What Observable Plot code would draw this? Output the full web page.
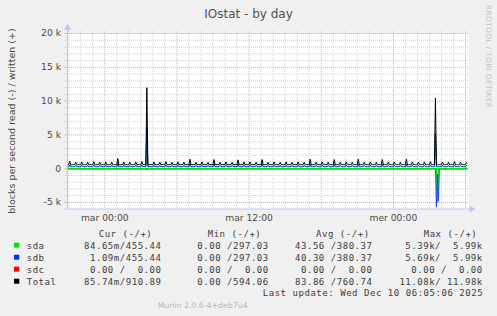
<!DOCTYPE html>
<html><head><meta charset="utf-8">
<script src="https://cdn.jsdelivr.net/npm/d3@7"></script>
<script src="https://cdn.jsdelivr.net/npm/@observablehq/plot@0.6"></script>
<style>
html,body{margin:0;padding:0;background:#f0f0f0;}
#chart{position:relative;width:497px;height:316px;overflow:hidden;}
svg text.pre{white-space:pre;}
</style></head><body><div id="chart"></div>
<script>
// ---------------- data ----------------
const title = "IOstat - by day";
const yLabel = "blocks per second read (-) / written (+)";
const watermark = "RRDTOOL / TOBI OETIKER";
const footer = "Munin 2.0.6-4+deb7u4";
const lastUpdate = "Last update: Wed Dec 10 06:05:06 2025";

const devices = ["sda", "sdb", "sdc", "Total"];
const deviceColors = ["#00e600", "#0033ff", "#ff0000", "#000000"];
const legendHeaders = ["Cur (-/+)", "Min (-/+)", "Avg (-/+)", "Max (-/+)"];
const curValues = ["84.65m/455.44", "1.09m/455.44", "0.00 /  0.00", "85.74m/910.89"];
const minValues = ["0.00 /297.03", "0.00 /297.03", "0.00 /  0.00", "0.00 /594.06"];
const avgValues = ["43.56 /380.37", "40.30 /380.37", "0.00 /  0.00", "83.86 /760.74"];
const maxValues = ["5.39k/  5.99k", "5.69k/  5.99k", "0.00 /  0.00", "11.08k/ 11.98k"];

const xTickTimes = ["2025-12-09T00:00:00Z", "2025-12-09T12:00:00Z", "2025-12-10T00:00:00Z"];
const xTickLabels = ["mar 00:00", "mar 12:00", "mer 00:00"];
const yTickValues = [-5000, 0, 5000, 10000, 15000, 20000];
const yTickLabels = ["-5 k", "0", "5 k", "10 k", "15 k", "20 k"];

// 5-minute samples
const seriesStart = "2025-12-08T20:55:00Z";
const seriesEnd = "2025-12-10T06:05:00Z";
// half-hourly write bumps, first one at 21:05
const firstBump = "2025-12-08T21:05:00Z";
const totalWriteBase = 600;
const sdbWriteBase = 300;
const totalWriteBumps = [
  1100,950,1000,950,1050,950,1000,950,1500,1000,
  950,1000,1050,600,1000,950,1050,950,1000,950,
  1400,950,1000,950,1350,950,1000,950,1300,1000,
  1000,950,1350,950,1000,950,1000,950,1000,950,
  1400,950,1000,950,1350,950,1000,950,1400,950,
  1000,950,1350,950,1000,950,1400,1000,950,1000,
  1050,600,1000,950,1050,950,911];
const sdbWriteBumps = [
  560,480,520,480,540,480,520,480,760,520,
  480,520,540,300,520,480,540,480,520,480,
  700,480,520,480,680,480,520,480,650,520,
  520,480,680,480,520,480,520,480,520,480,
  700,480,520,480,680,480,520,480,700,480,
  520,480,680,480,520,480,700,520,480,520,
  540,300,520,480,540,480,455];
const writeSpikeTimes = ["2025-12-09T03:30:00Z", "2025-12-10T03:30:00Z"];
const totalWriteSpikes = [11980, 10400];
const sdbWriteSpikes = [5990, 5200];
const sdaWriteSpikes = [5990, 5200];
// reads (negative side)
const readTimes = ["2025-12-09T03:30:00Z", "2025-12-10T03:35:00Z", "2025-12-10T03:40:00Z", "2025-12-10T03:45:00Z", "2025-12-10T04:20:00Z"];
const sdbReads = [-200, -5690, -800, -4800, 0];
const sdaReads = [0, 0, -4900, 0, -150];

// ---------------- build table ----------------
const P = s => new Date(s);
const t0 = P(seriesStart), t1 = P(seriesEnd);
const times = d3.utcMinute.every(5).range(t0, new Date(+t1 + 1));
const bump0 = +P(firstBump), HALF = 30 * 60 * 1000;
function writeAt(t, base, bumps, spikes) {
  const si = writeSpikeTimes.findIndex(s => +P(s) === +t);
  if (si >= 0) return spikes[si];
  const k = (t - bump0) / HALF;
  if (Number.isInteger(k) && k >= 0 && k < bumps.length) return bumps[k];
  return base;
}
function readAt(t, vals) {
  const i = readTimes.findIndex(s => +P(s) === +t);
  return i >= 0 ? vals[i] : 0;
}
const rows = times.map(t => ({
  time: t,
  totalW: writeAt(t, totalWriteBase, totalWriteBumps, totalWriteSpikes),
  sdbW: writeAt(t, sdbWriteBase, sdbWriteBumps, sdbWriteSpikes),
  sdaW: writeAt(t, sdbWriteBase, sdbWriteBumps, sdaWriteSpikes),
  sdbR: readAt(t, sdbReads),
  sdaR: readAt(t, sdaReads),
  sdc: 0
}));

// ---------------- chart ----------------
const xDomain = [P("2025-12-08T20:54:00Z"), P("2025-12-10T06:15:00Z")];
const yDomain = [-5960, 20000];
const minorColor = "#d2d2d2", majorColor = "#f2a0a0", axisColor = "#c2c6ee";
const hours = d3.utcHour.range(P("2025-12-08T21:00:00Z"), P("2025-12-10T06:10:00Z"));
const minorHours = hours.filter(h => h.getUTCHours() % 6 !== 0);
const majorHours = hours.filter(h => h.getUTCHours() % 6 === 0);
const yMinor = d3.range(-5000, 20001, 1000).filter(v => v % 5000 !== 0);
const yMajor = d3.range(-5000, 20001, 5000);
const xLabelMap = new Map(xTickTimes.map((s, i) => [+P(s), xTickLabels[i]]));
const yLabelMap = new Map(yTickValues.map((v, i) => [v, yTickLabels[i]]));
const tick = 15 * 60 * 1000;

const plot = Plot.plot({
  width: 497, height: 316,
  marginLeft: 67, marginRight: 29, marginTop: 33, marginBottom: 107.5,
  style: {background: "#f0f0f0", fontFamily: "DejaVu Sans", fontSize: "9.2px", color: "#4a4a4a", overflow: "visible"},
  x: {type: "utc", domain: xDomain, ticks: xTickTimes.map(P), tickFormat: d => xLabelMap.get(+d), tickSize: 0, tickPadding: 5, label: null},
  y: {domain: yDomain, ticks: yTickValues, tickFormat: d => yLabelMap.get(d), tickSize: 0, tickPadding: 6.5, label: null},
  marks: [
    Plot.frame({fill: "white", stroke: null}),
    Plot.ruleY(yMinor, {stroke: minorColor, strokeDasharray: "1,1"}),
    Plot.ruleX(minorHours, {stroke: minorColor, strokeDasharray: "1,1"}),
    Plot.ruleY(yMinor, {x1: new Date(+xDomain[0] - 12 * 60000), x2: xDomain[0], stroke: minorColor}),
    Plot.ruleX(hours, {y1: 20000, y2: 20320, stroke: minorColor}),
    Plot.ruleY(yMajor, {stroke: majorColor, strokeDasharray: "1,1"}),
    Plot.ruleX(majorHours, {stroke: majorColor, strokeDasharray: "1,1"}),
    Plot.ruleY(yMajor, {x1: new Date(+xDomain[0] - 12 * 60000), x2: xDomain[0], stroke: majorColor}),
    Plot.line(rows, {x: "time", y: "sdc", stroke: deviceColors[2], strokeWidth: 1}),
    Plot.line(rows, {x: "time", y: "sdaR", stroke: deviceColors[0], strokeWidth: 1.3}),
    Plot.line(rows, {x: "time", y: "sdbR", stroke: deviceColors[1], strokeWidth: 1, strokeOpacity: 0.8}),
    Plot.ruleY([0], {stroke: deviceColors[0], strokeWidth: 1.3}),
    Plot.line(rows, {x: "time", y: "sdaW", stroke: deviceColors[0], strokeWidth: 1}),
    Plot.line(rows, {x: "time", y: "sdbW", stroke: deviceColors[1], strokeWidth: 1}),
    Plot.line(rows, {x: "time", y: "totalW", stroke: deviceColors[3], strokeWidth: 1}),
    Plot.ruleX([xDomain[0]], {y1: yDomain[0], y2: 20700, stroke: axisColor}),
    Plot.ruleY([yDomain[0]], {x1: new Date(+xDomain[0] - tick), x2: new Date(+xDomain[1] + tick), stroke: axisColor}),
    Plot.dot([{x: xDomain[0], y: 20850}], {x: "x", y: "y", symbol: "triangle", r: 2.6, fill: axisColor, stroke: null}),
    Plot.dot([{x: new Date(+xDomain[1] + tick), y: yDomain[0]}], {x: "x", y: "y", symbol: "triangle", r: 2.6, rotate: 90, fill: axisColor, stroke: null})
  ]
});
document.getElementById("chart").appendChild(plot);

const svg = d3.select(plot);
svg.append("text").attr("x", 248.5).attr("y", 18).attr("text-anchor", "middle")
  .attr("font-family", "DejaVu Sans").attr("font-size", "12px").attr("fill", "#505050").text(title);
svg.append("text").attr("transform", "translate(14.5,121) rotate(-90)").attr("text-anchor", "middle")
  .attr("font-family", "DejaVu Sans").attr("font-size", "9.5px").attr("fill", "#4a4a4a").text(yLabel);
svg.append("text").attr("transform", "translate(485.5,5) rotate(90)").attr("text-anchor", "start")
  .attr("font-family", "DejaVu Sans").attr("font-size", "7.5px").attr("letter-spacing", "0.3px")
  .attr("fill", "#c4c4c4").text(watermark);

const mono = (x, y, s, anchor) => svg.append("text").attr("class", "pre").attr("xml:space", "preserve")
  .attr("x", x).attr("y", y).attr("text-anchor", anchor)
  .attr("font-family", "DejaVu Sans Mono").attr("font-size", "9px").attr("letter-spacing", "0.54px")
  .attr("fill", "#3c3c3c").text(s);
const headerX = [98.7, 207.7, 316, 423.7];
legendHeaders.forEach((h, i) => mono(headerX[i], 236.7, h, "start"));
const colRight = [161.5, 268.8, 372.5, 482.8];
devices.forEach((d, r) => {
  const y = 248.7 + r * 12;
  svg.append("rect").attr("x", 14).attr("y", y - 6).attr("width", 5.3).attr("height", 5).attr("fill", deviceColors[r]);
  mono(26.7, y, d, "start");
  [curValues, minValues, avgValues, maxValues].forEach((col, c) => mono(colRight[c], y, col[r], "end"));
});
mono(483.2, 295.7, lastUpdate, "end");
svg.append("text").attr("x", 202.7).attr("y", 307.7)
  .attr("font-family", "DejaVu Sans").attr("font-size", "7.8px").attr("fill", "#b8b8b8").text(footer);
</script></body></html>
